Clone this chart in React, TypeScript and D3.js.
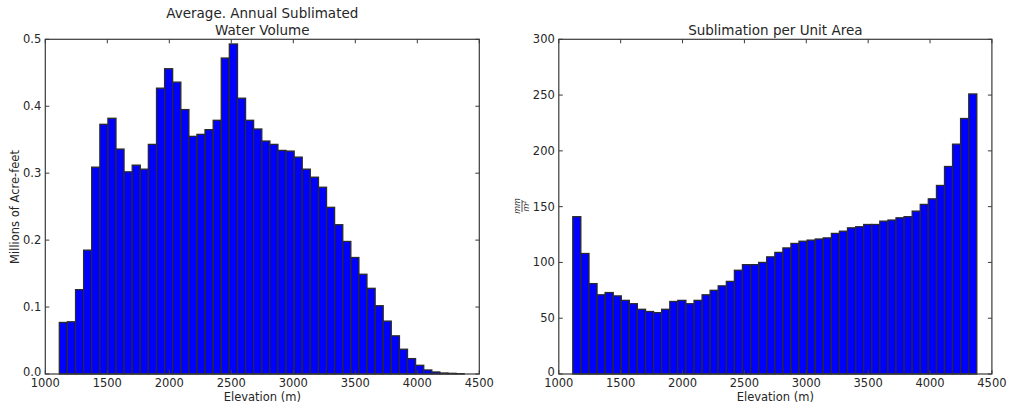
import React from "react";
import * as d3 from "d3";

// Elevation bin edges (m), 50 bins
const binEdges = [
  1113, 1178, 1244, 1309, 1374, 1440, 1505, 1570, 1635, 1701, 1766, 1831, 1897,
  1962, 2027, 2093, 2158, 2223, 2288, 2354, 2419, 2484, 2550, 2615, 2680, 2746,
  2811, 2876, 2941, 3007, 3072, 3137, 3203, 3268, 3333, 3399, 3464, 3529, 3594,
  3660, 3725, 3790, 3856, 3921, 3986, 4052, 4117, 4182, 4247, 4313, 4378,
];

// Millions of acre-feet per bin
const volumeValues = [
  0.077, 0.078, 0.126, 0.185, 0.309, 0.373, 0.382, 0.336, 0.302, 0.312, 0.306,
  0.343, 0.427, 0.456, 0.436, 0.395, 0.355, 0.358, 0.365, 0.379, 0.472, 0.493,
  0.412, 0.379, 0.366, 0.348, 0.343, 0.334, 0.333, 0.324, 0.306, 0.294, 0.279,
  0.249, 0.223, 0.198, 0.174, 0.149, 0.128, 0.102, 0.079, 0.057, 0.037, 0.023,
  0.013, 0.006, 0.003, 0.0015, 0.001, 0.0005,
];

// mm / m^2 per bin
const perAreaValues = [
  141, 108, 81, 71, 73, 70, 66, 63, 58, 56, 55, 58, 65, 66, 63, 66, 71, 75, 79,
  83, 93, 98, 98, 100, 105, 109, 113, 117, 119, 120, 121, 122, 126, 128, 131,
  132, 134, 134, 137, 138, 140, 141, 146, 152, 157, 169, 186, 206, 229, 251,
];

const xTicks = [1000, 1500, 2000, 2500, 3000, 3500, 4000, 4500];
const leftYTicks = [0, 0.1, 0.2, 0.3, 0.4, 0.5];
const rightYTicks = [0, 50, 100, 150, 200, 250, 300];

const FONT = "'DejaVu Sans', sans-serif";
const TEXT = "#262626";
const FRAME = "#3a3a3a";

type PanelProps = {
  left: number;
  right: number;
  top: number;
  bottom: number;
  values: number[];
  yMax: number;
  yTicks: number[];
  yFmt: (v: number) => string;
};

function Panel({ left, right, top, bottom, values, yMax, yTicks, yFmt }: PanelProps) {
  const x = d3.scaleLinear().domain([1000, 4500]).range([left, right]);
  const y = d3.scaleLinear().domain([0, yMax]).range([bottom, top]);
  const tl = 4;
  return (
    <g>
      {values.map((v, i) => {
        const x0 = x(binEdges[i]);
        const x1 = x(binEdges[i + 1]);
        return (
          <rect
            key={i}
            x={x0}
            y={y(v)}
            width={x1 - x0}
            height={y(0) - y(v)}
            fill="#0000ff"
            stroke="#2a2a2a"
            strokeWidth={1.3}
          />
        );
      })}
      <rect
        x={left}
        y={top}
        width={right - left}
        height={bottom - top}
        fill="none"
        stroke={FRAME}
        strokeWidth={1.2}
      />
      {xTicks.map((t) => (
        <g key={"xt" + t}>
          <line x1={x(t)} x2={x(t)} y1={bottom} y2={bottom - tl} stroke={FRAME} />
          <line x1={x(t)} x2={x(t)} y1={top} y2={top + tl} stroke={FRAME} />
          <text
            x={x(t)}
            y={bottom + 13}
            textAnchor="middle"
            fontSize={11.5}
            fontFamily={FONT}
            fill={TEXT}
          >
            {t}
          </text>
        </g>
      ))}
      {yTicks.map((t) => (
        <g key={"yt" + t}>
          <line x1={left} x2={left + tl} y1={y(t)} y2={y(t)} stroke={FRAME} />
          <line x1={right} x2={right - tl} y1={y(t)} y2={y(t)} stroke={FRAME} />
          <text
            x={left - 4}
            y={y(t)}
            dy={t === 0 ? "0.2em" : "0.35em"}
            textAnchor="end"
            fontSize={11.5}
            fontFamily={FONT}
            fill={TEXT}
          >
            {yFmt(t)}
          </text>
        </g>
      ))}
      <text
        x={(left + right) / 2}
        y={401}
        textAnchor="middle"
        fontSize={11.5}
        fontFamily={FONT}
        fill={TEXT}
      >
        Elevation (m)
      </text>
    </g>
  );
}

export default function App() {
  const L = { left: 45.3, right: 479.3 };
  const R = { left: 558.8, right: 991.9 };
  const top = 39.3;
  const bottom = 374;
  return (
    <svg
      width={1009}
      height={409}
      style={{ position: "absolute", left: 0, top: 0, background: "#fff" }}
    >
      <Panel
        left={L.left}
        right={L.right}
        top={top}
        bottom={bottom}
        values={volumeValues}
        yMax={0.5}
        yTicks={leftYTicks}
        yFmt={(v) => v.toFixed(1)}
      />
      <Panel
        left={R.left}
        right={R.right}
        top={top}
        bottom={bottom}
        values={perAreaValues}
        yMax={300}
        yTicks={rightYTicks}
        yFmt={(v) => String(v)}
      />
      <text
        x={(L.left + L.right) / 2}
        y={18}
        textAnchor="middle"
        fontSize={13.5}
        fontFamily={FONT}
        fill={TEXT}
      >
        Average. Annual Sublimated
      </text>
      <text
        x={(L.left + L.right) / 2}
        y={35}
        textAnchor="middle"
        fontSize={13.5}
        fontFamily={FONT}
        fill={TEXT}
      >
        Water Volume
      </text>
      <text
        x={(R.left + R.right) / 2}
        y={35}
        textAnchor="middle"
        fontSize={13.5}
        fontFamily={FONT}
        fill={TEXT}
      >
        Sublimation per Unit Area
      </text>
      <text
        transform="translate(19,207) rotate(-90)"
        textAnchor="middle"
        fontSize={11.5}
        fontFamily={FONT}
        fill={TEXT}
      >
        Millions of Acre-feet
      </text>
      <g transform="translate(522,206) rotate(-90)" fontFamily={FONT} fill={TEXT}>
        <text x={0} y={-2} textAnchor="middle" fontSize={8} fontStyle="italic">
          mm
        </text>
        <line x1={-6} x2={6} y1={0} y2={0} stroke={TEXT} strokeWidth={0.8} />
        <text x={0} y={7} textAnchor="middle" fontSize={8} fontStyle="italic">
          m
          <tspan fontSize={5} dy={-3}>
            2
          </tspan>
        </text>
      </g>
    </svg>
  );
}
